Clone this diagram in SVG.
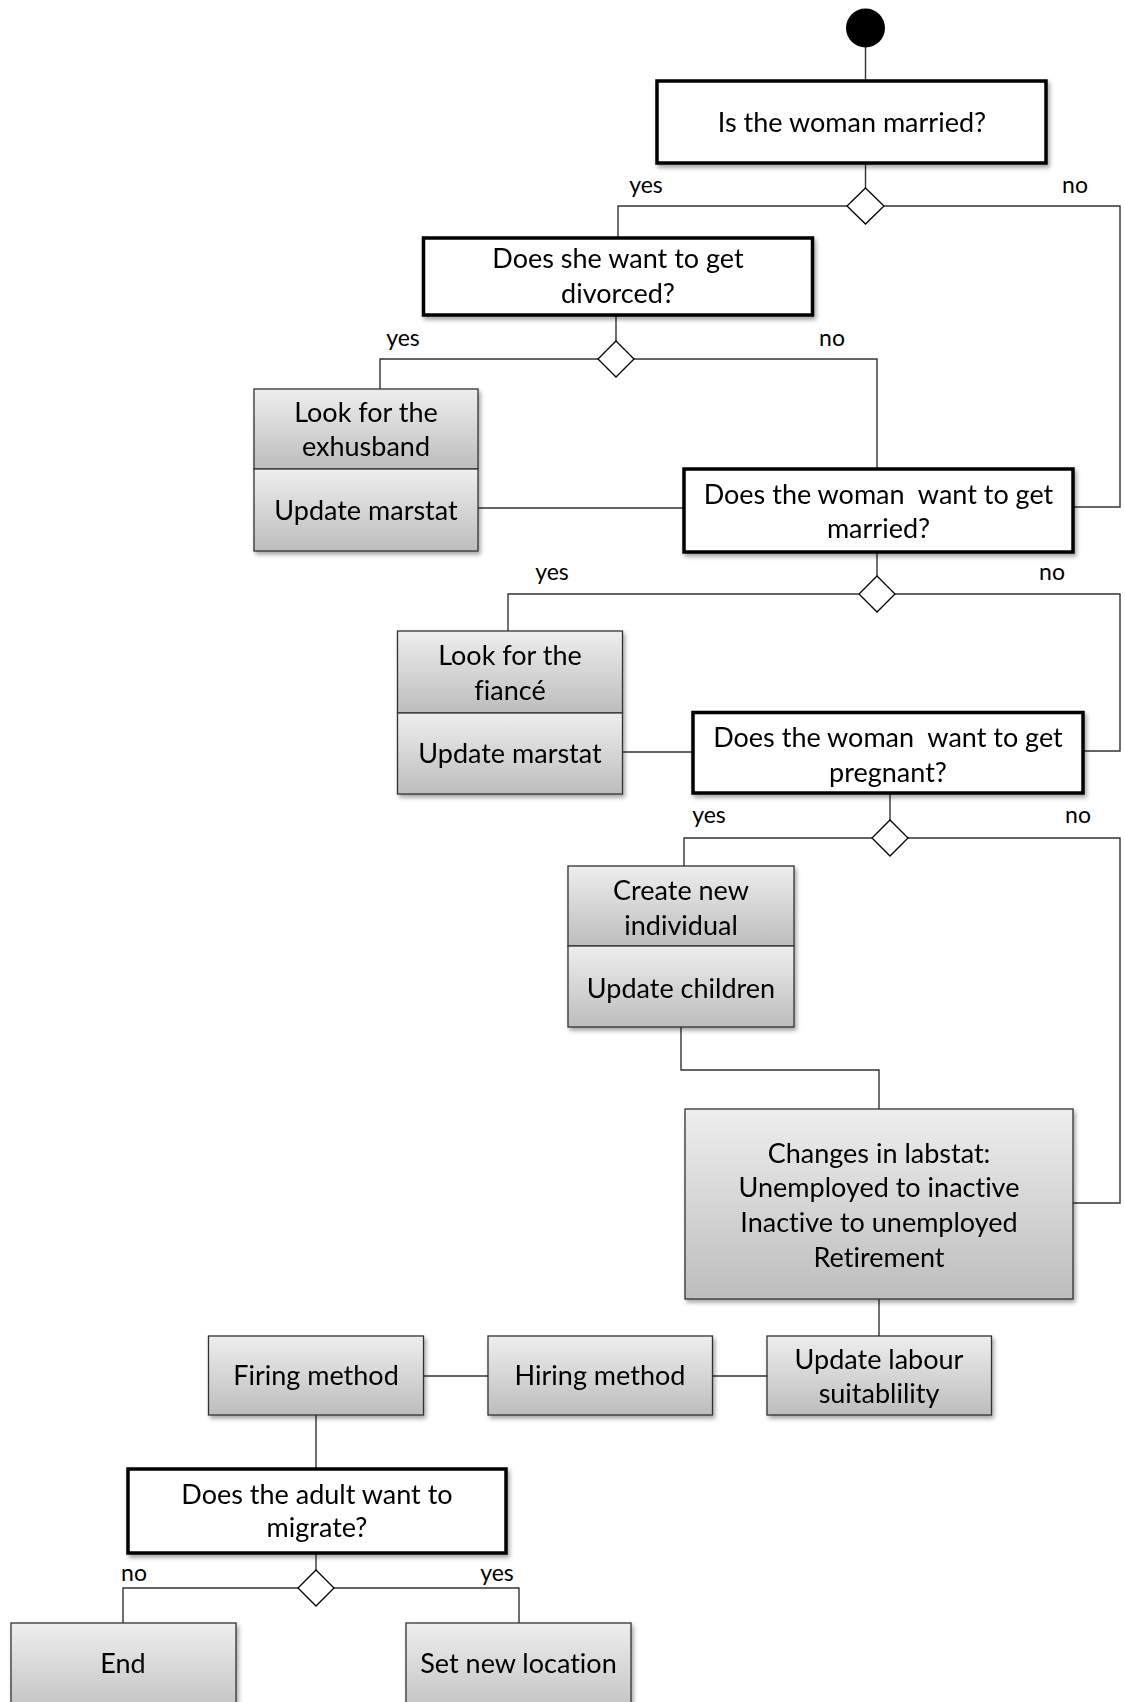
<svg xmlns="http://www.w3.org/2000/svg" width="1125" height="1702" viewBox="0 0 1125 1702">
<style>
.dec{fill:#fff;stroke:#000;stroke-width:3.5}
.act{fill:url(#g);stroke:#333;stroke-width:1.3}
.t{font-family:Lato,"Liberation Sans",sans-serif;font-size:27px;fill:#000;text-anchor:middle;font-variant-ligatures:none}
.l{font-family:Lato,"Liberation Sans",sans-serif;font-size:23px;fill:#000;text-anchor:middle}
.c path{fill:none;stroke:#333;stroke-width:1.4}
.dia{fill:#fff;stroke:#000;stroke-width:1.3}
</style>
<defs>
<linearGradient id="g" x1="0" y1="0" x2="0" y2="1">
<stop offset="0" stop-color="#eeeeee"/>
<stop offset="1" stop-color="#bdbdbd"/>
</linearGradient>
<filter id="sh" x="-10%" y="-10%" width="125%" height="130%">
<feDropShadow dx="2" dy="3" stdDeviation="2" flood-color="#000" flood-opacity="0.35"/>
</filter>
</defs>
<g class="c" id="connectors">
<path d="M865.5 28V81"/>
<path d="M865.5 163V206"/>
<path d="M847 206H618V238"/>
<path d="M884 206H1120V507H1073"/>
<path d="M616 315V359"/>
<path d="M598 359H380V389"/>
<path d="M634 359H877V469"/>
<path d="M478 508H684"/>
<path d="M877 552V594"/>
<path d="M859 594H508V631"/>
<path d="M895 594H1120V751H1083"/>
<path d="M622 752H693"/>
<path d="M890 793V838"/>
<path d="M872 838H684V866"/>
<path d="M908 838H1120V1203H1073"/>
<path d="M681 1027V1070H879V1109"/>
<path d="M879 1299V1336"/>
<path d="M767 1376H712"/>
<path d="M488 1376H424"/>
<path d="M316 1415V1469"/>
<path d="M316 1553V1588"/>
<path d="M298 1588H123V1623"/>
<path d="M334 1588H519V1623"/>
<polygon class="dia" points="865.5,188 884,206 865.5,224 847,206"/>
<polygon class="dia" points="616,341 634,359 616,377 598,359"/>
<polygon class="dia" points="877,576 895,594 877,612 859,594"/>
<polygon class="dia" points="890,820 908,838 890,856 872,838"/>
<polygon class="dia" points="316,1570 334,1588 316,1606 298,1588"/>
<text class="l" x="646" y="193">yes</text>
<text class="l" x="1075" y="193">no</text>
<text class="l" x="403" y="346">yes</text>
<text class="l" x="832" y="346">no</text>
<text class="l" x="552" y="580">yes</text>
<text class="l" x="1052" y="580">no</text>
<text class="l" x="709" y="823">yes</text>
<text class="l" x="1078" y="823">no</text>
<text class="l" x="134" y="1581">no</text>
<text class="l" x="497" y="1581">yes</text>
</g>
<g id="start"><circle cx="865.5" cy="28" r="19.5" fill="#000"/></g>
<g id="q-married" filter="url(#sh)"><rect class="dec" x="657" y="81" width="389" height="82"/>
<text class="t" x="852" y="132">Is the woman married?</text></g>
<g id="q-divorce" filter="url(#sh)"><rect class="dec" x="423.5" y="238" width="389" height="77"/>
<text class="t" x="618" y="268">Does she want to get</text>
<text class="t" x="618" y="303">divorced?</text></g>
<g id="exhusband" filter="url(#sh)"><rect class="act" x="254" y="389" width="224" height="80"/>
<rect class="act" x="254" y="469" width="224" height="82"/>
<text class="t" x="366" y="422">Look for the</text>
<text class="t" x="366" y="456">exhusband</text>
<text class="t" x="366" y="520">Update marstat</text></g>
<g id="q-marry" filter="url(#sh)"><rect class="dec" x="684" y="469" width="389" height="83"/>
<text class="t" x="878.5" y="504">Does the woman&#160; want to get</text>
<text class="t" x="878.5" y="538">married?</text></g>
<g id="fiance" filter="url(#sh)"><rect class="act" x="397.5" y="631" width="225" height="82"/>
<rect class="act" x="397.5" y="713" width="225" height="81"/>
<text class="t" x="510" y="665">Look for the</text>
<text class="t" x="510" y="700">fiancé</text>
<text class="t" x="510" y="763">Update marstat</text></g>
<g id="q-pregnant" filter="url(#sh)"><rect class="dec" x="693" y="712.5" width="390" height="80.5"/>
<text class="t" x="888" y="747">Does the woman&#160; want to get</text>
<text class="t" x="888" y="782">pregnant?</text></g>
<g id="newind" filter="url(#sh)"><rect class="act" x="568" y="866" width="226" height="80"/>
<rect class="act" x="568" y="946" width="226" height="81"/>
<text class="t" x="681" y="900">Create new</text>
<text class="t" x="681" y="935">individual</text>
<text class="t" x="681" y="998">Update children</text></g>
<g id="labstat" filter="url(#sh)"><rect class="act" x="685" y="1109" width="388" height="190"/>
<text class="t" x="879" y="1163">Changes in labstat:</text>
<text class="t" x="879" y="1197">Unemployed to inactive</text>
<text class="t" x="879" y="1232">Inactive to unemployed</text>
<text class="t" x="879" y="1267">Retirement</text></g>
<g id="suit" filter="url(#sh)"><rect class="act" x="767" y="1336" width="224.5" height="79"/>
<text class="t" x="879" y="1369">Update labour</text>
<text class="t" x="879" y="1403">suitablility</text></g>
<g id="hiring" filter="url(#sh)"><rect class="act" x="488" y="1336" width="224.5" height="79"/>
<text class="t" x="600" y="1385">Hiring method</text></g>
<g id="firing" filter="url(#sh)"><rect class="act" x="208.5" y="1336" width="215" height="79"/>
<text class="t" x="316" y="1385">Firing method</text></g>
<g id="q-migrate" filter="url(#sh)"><rect class="dec" x="128" y="1469" width="378" height="84"/>
<text class="t" x="317" y="1504">Does the adult want to</text>
<text class="t" x="317" y="1537">migrate?</text></g>
<g id="end" filter="url(#sh)"><rect class="act" x="11" y="1623" width="225" height="100"/>
<text class="t" x="123" y="1673">End</text></g>
<g id="newloc" filter="url(#sh)"><rect class="act" x="406" y="1623" width="225" height="100"/>
<text class="t" x="518.5" y="1673">Set new location</text></g>
</svg>
